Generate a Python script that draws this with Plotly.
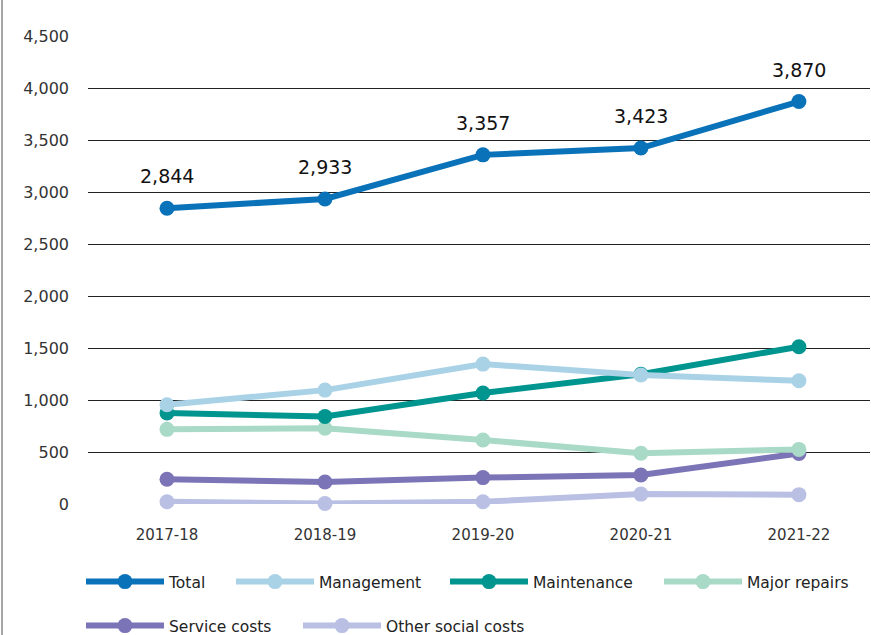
import plotly.graph_objects as go

years = ["2017-18", "2018-19", "2019-20", "2020-21", "2021-22"]

total = [2844, 2933, 3357, 3423, 3870]
management = [955, 1095, 1345, 1240, 1185]
maintenance = [875, 842, 1068, 1248, 1512]
major_repairs = [718, 728, 615, 488, 525]
service_costs = [238, 212, 254, 279, 486]
other_social = [22, 5, 22, 95, 90]

# (name, values, colour, legend box)
series = [
    ("Total", total, "#0a72b9", "legend"),
    ("Management", management, "#aad2e6", "legend2"),
    ("Maintenance", maintenance, "#019590", "legend2"),
    ("Major repairs", major_repairs, "#a9d9c7", "legend2"),
    ("Service costs", service_costs, "#7b74b6", "legend3"),
    ("Other social costs", other_social, "#b9c0e4", "legend4"),
]

FONT = "'DejaVu Sans', sans-serif"
PLOT_W = 782  # plot area width in px
PLOT_H = 468  # plot area height in px

fig = go.Figure()
# draw bottom series first so Total sits on top
for name, vals, color, lg in reversed(series):
    fig.add_trace(go.Scatter(
        x=years, y=vals, name=name, mode="lines+markers",
        line=dict(color=color, width=6),
        marker=dict(color=color, size=15),
        cliponaxis=False, legend=lg,
    ))

# value labels above the Total line
for yr, v in zip(years, total):
    fig.add_annotation(
        x=yr, y=v, text=f"{v:,}", showarrow=False, yshift=32,
        font=dict(family=FONT, size=19, color="#111111"),
    )

# thin frame line on the left edge of the page
fig.add_shape(type="line", xref="paper", yref="paper",
              x0=-86 / PLOT_W, x1=-86 / PLOT_W, y0=-131 / PLOT_H, y1=1 + 36 / PLOT_H,
              line=dict(color="#888888", width=1.5))

legend_common = dict(
    orientation="h", traceorder="reversed", xanchor="left", yanchor="top",
    itemwidth=78, tracegroupgap=0, bgcolor="rgba(0,0,0,0)",
    font=dict(family=FONT, size=15.5, color="#222222"),
)

fig.update_layout(
    width=871, height=635,
    margin=dict(l=88, r=1, t=36, b=131, autoexpand=False),
    paper_bgcolor="white", plot_bgcolor="white",
    font=dict(family=FONT, size=15, color="#333333"),
    showlegend=True,
    legend=dict(legend_common, x=-7 / PLOT_W, y=-61 / PLOT_H),
    legend2=dict(legend_common, x=(238 - 95) / PLOT_W, y=-61 / PLOT_H,
                 entrywidth=121),
    legend3=dict(legend_common, x=-7 / PLOT_W, y=-105 / PLOT_H),
    legend4=dict(legend_common, x=(305 - 95) / PLOT_W, y=-105 / PLOT_H),
    xaxis=dict(
        type="category", range=[-0.5, 4.45],
        showgrid=False, zeroline=False, showline=False, ticks="",
        ticklabelstandoff=20,
        tickfont=dict(family=FONT, size=15, color="#333333"),
    ),
    yaxis=dict(
        range=[0, 4500], dtick=500, tickformat=",",
        showgrid=True, gridcolor="#222222", gridwidth=1,
        zeroline=False, showline=False, ticks="", ticklabelstandoff=18,
        tickfont=dict(family=FONT, size=16, color="#333333"),
    ),
)

fig.write_html("out.html")
